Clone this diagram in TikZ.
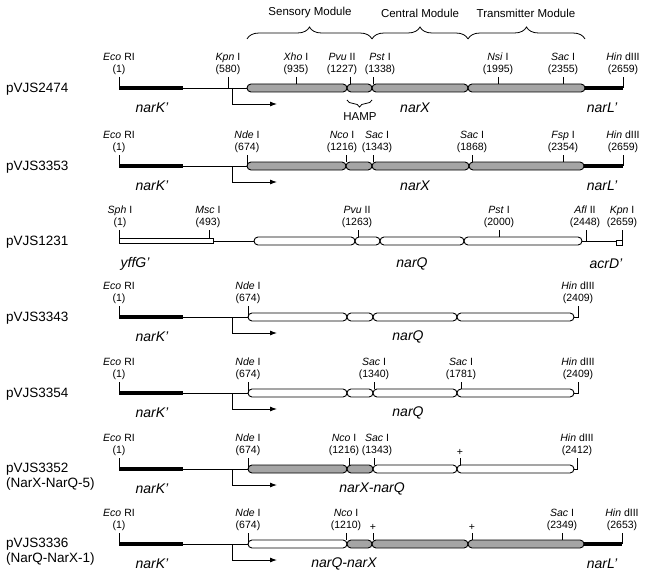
\documentclass[tikz,border=0pt]{standalone}
\usepackage{fontspec}
\setmainfont{Liberation Sans}
\usepackage{tikz}
\usetikzlibrary{arrows.meta,decorations.pathreplacing}
\definecolor{narxgrey}{RGB}{165,165,165}
\tikzset{
  >={Latex[length=7pt,width=5pt]},
  dna/.style={line width=0.9pt},
  promoter/.style={->, line width=0.9pt},
  solidbar/.style={line width=4.5pt, draw=black},
  openbar/.style={draw=black, fill=white, line width=0.7pt},
  narxpart/.style={draw=black, fill=narxgrey, line width=0.9pt, rounded corners=4pt},
  narqpart/.style={narxpart, fill=white},
  sitetick/.style={line width=0.8pt},
  site/.style={anchor=south, align=center, inner sep=1pt, font=\fontsize{10.5}{12}\selectfont},
  gene/.style={font=\fontsize{14}{16}\selectfont\itshape},
  plasmid/.style={anchor=west, align=left, inner sep=0pt, font=\fontsize{13.5}{15}\selectfont},
  module/.style={decorate, decoration={brace, amplitude=12pt}, line width=0.8pt},
  hampbrace/.style={decorate, decoration={brace, amplitude=7pt}, line width=0.8pt},
  modlabel/.style={font=\fontsize{11.5}{13}\selectfont}
}

\begin{document}
\begin{tikzpicture}[x=1pt,y=-1pt]
  \useasboundingbox (0,0) rectangle (647,575);

  % domains of NarX
  \draw[module] (247,39) -- (372,39);
  \draw[module] (372,39) -- (468,39);
  \draw[module] (468,39) -- (585,39);
  \node[modlabel] (sensory) at (310,13) {Sensory Module};
  \node[modlabel] (central) at (420,13) {Central Module};
  \node[modlabel] (transmitter) at (526,13) {Transmitter Module};

  % pVJS2474
  \begin{scope}[shift={(0,88)}]
    \node[plasmid] (p2474) at (6,1) {pVJS2474};
    \draw[dna] (119,0) -- (247,0);
    \draw[solidbar] (119,0) -- (183,0);
    \draw[narxpart] (247,-4) rectangle (347,4);
    \draw[narxpart] (347,-4) rectangle (372,4);
    \draw[narxpart] (372,-4) rectangle (468,4);
    \draw[narxpart] (468,-4) rectangle (585,4);
    \draw[solidbar] (585,0) -- (623,0);
    \draw[sitetick] (119,-11) -- (119,0);
    \draw[sitetick] (228,-11) -- (228,0);
    \draw[sitetick] (296,-11) -- (296,-4);
    \draw[sitetick] (350,-11) -- (350,-4);
    \draw[sitetick] (373,-11) -- (373,-4);
    \draw[sitetick] (498,-11) -- (498,-4);
    \draw[sitetick] (563,-11) -- (563,-4);
    \draw[sitetick] (623,-11) -- (623,0);
    \node[site] (eco1) at (119,-12) {\textit{Eco} RI\\(1)};
    \node[site] (kpn1) at (228,-12) {\textit{Kpn} I\\(580)};
    \node[site] (xho1) at (296,-12) {\textit{Xho} I\\(935)};
    \node[site] (pvu1) at (342,-12) {\textit{Pvu} II\\(1227)};
    \node[site] (pst1) at (380,-12) {\textit{Pst} I\\(1338)};
    \node[site] (nsi1) at (498,-12) {\textit{Nsi} I\\(1995)};
    \node[site] (sac1) at (563,-12) {\textit{Sac} I\\(2355)};
    \node[site] (hin1) at (623,-12) {\textit{Hin} dIII\\(2659)};
    \draw[promoter] (232,0) -- (232,16) -- (277,16);
    \draw[hampbrace] (372,12) -- (347,12);
    \node[modlabel] (hamp) at (360,29) {HAMP};
    \node[gene] (nark1) at (152,20) {narK'};
    \node[gene] (narx1) at (415,20) {narX};
    \node[gene] (narl1) at (602,20) {narL'};
  \end{scope}

  % pVJS3353
  \begin{scope}[shift={(0,166)}]
    \node[plasmid] (p3353) at (6,1) {pVJS3353};
    \draw[dna] (119,0) -- (247,0);
    \draw[solidbar] (119,0) -- (183,0);
    \draw[narxpart] (247,-4) rectangle (346,4);
    \draw[narxpart] (346,-4) rectangle (372,4);
    \draw[narxpart] (372,-4) rectangle (469,4);
    \draw[narxpart] (469,-4) rectangle (584,4);
    \draw[solidbar] (584,0) -- (623,0);
    \draw[sitetick] (119,-11) -- (119,0);
    \draw[sitetick] (247,-11) -- (247,0);
    \draw[sitetick] (346,-11) -- (346,-4);
    \draw[sitetick] (373,-11) -- (373,-4);
    \draw[sitetick] (472,-11) -- (472,-4);
    \draw[sitetick] (563,-11) -- (563,-4);
    \draw[sitetick] (623,-11) -- (623,0);
    \node[site] (eco2) at (119,-12) {\textit{Eco} RI\\(1)};
    \node[site] (nde2) at (247,-12) {\textit{Nde} I\\(674)};
    \node[site] (nco2) at (342,-12) {\textit{Nco} I\\(1216)};
    \node[site] (saca2) at (377,-12) {\textit{Sac} I\\(1343)};
    \node[site] (sacb2) at (472,-12) {\textit{Sac} I\\(1868)};
    \node[site] (fsp2) at (563,-12) {\textit{Fsp} I\\(2354)};
    \node[site] (hin2) at (623,-12) {\textit{Hin} dIII\\(2659)};
    \draw[promoter] (232,0) -- (232,16) -- (277,16);
    \node[gene] (nark2) at (152,20) {narK'};
    \node[gene] (narx2) at (415,20) {narX};
    \node[gene] (narl2) at (602,20) {narL'};
  \end{scope}

  % pVJS1231
  \begin{scope}[shift={(0,241)}]
    \node[plasmid] (p1231) at (6,1) {pVJS1231};
    \draw[dna] (119,0) -- (254,0);
    \draw[openbar] (119,-2.5) rectangle (213,2.5);
    \draw[narqpart] (254,-4) rectangle (355,4);
    \draw[narqpart] (355,-4) rectangle (380,4);
    \draw[narqpart] (380,-4) rectangle (464,4);
    \draw[narqpart] (464,-4) rectangle (582,4);
    \draw[dna] (582,0) -- (616,0);
    \draw[openbar] (616,-1) rectangle (622,4);
    \draw[sitetick] (119,-11) -- (119,0);
    \draw[sitetick] (209,-11) -- (209,-2.5);
    \draw[sitetick] (358,-11) -- (358,-4);
    \draw[sitetick] (499,-11) -- (499,-4);
    \draw[sitetick] (586,-11) -- (586,0);
    \draw[sitetick] (622,-11) -- (622,-1);
    \node[site] (sph3) at (120,-12) {\textit{Sph} I\\(1)};
    \node[site] (msc3) at (208,-12) {\textit{Msc} I\\(493)};
    \node[site] (pvu3) at (357,-12) {\textit{Pvu} II\\(1263)};
    \node[site] (pst3) at (499,-12) {\textit{Pst} I\\(2000)};
    \node[site] (afl3) at (585,-12) {\textit{Afl} II\\(2448)};
    \node[site] (kpn3) at (622,-12) {\textit{Kpn} I\\(2659)};
    \node[gene] (yffg3) at (135,23) {yffG'};
    \node[gene] (narq3) at (412,23) {narQ};
    \node[gene] (acrd3) at (606,23) {acrD'};
  \end{scope}

  % pVJS3343
  \begin{scope}[shift={(0,317)}]
    \node[plasmid] (p3343) at (6,1) {pVJS3343};
    \draw[dna] (119,0) -- (248,0);
    \draw[solidbar] (119,0) -- (183,0);
    \draw[narqpart] (248,-4) rectangle (347,4);
    \draw[narqpart] (347,-4) rectangle (373,4);
    \draw[narqpart] (373,-4) rectangle (457,4);
    \draw[narqpart] (457,-4) rectangle (574,4);
    \draw[sitetick] (119,-11) -- (119,0);
    \draw[sitetick] (248,-11) -- (248,0);
    \draw[sitetick] (574,0) -- (578,0) -- (578,-11);
    \node[site] (eco4) at (119,-12) {\textit{Eco} RI\\(1)};
    \node[site] (nde4) at (248,-12) {\textit{Nde} I\\(674)};
    \node[site] (hin4) at (578,-12) {\textit{Hin} dIII\\(2409)};
    \draw[promoter] (232,0) -- (232,16) -- (277,16);
    \node[gene] (nark4) at (152,20) {narK'};
    \node[gene] (narq4) at (408,20) {narQ};
  \end{scope}

  % pVJS3354
  \begin{scope}[shift={(0,393)}]
    \node[plasmid] (p3354) at (6,1) {pVJS3354};
    \draw[dna] (119,0) -- (248,0);
    \draw[solidbar] (119,0) -- (183,0);
    \draw[narqpart] (248,-4) rectangle (347,4);
    \draw[narqpart] (347,-4) rectangle (373,4);
    \draw[narqpart] (373,-4) rectangle (457,4);
    \draw[narqpart] (457,-4) rectangle (574,4);
    \draw[sitetick] (119,-11) -- (119,0);
    \draw[sitetick] (248,-11) -- (248,0);
    \draw[sitetick] (374,-11) -- (374,-4);
    \draw[sitetick] (461,-11) -- (461,-4);
    \draw[sitetick] (574,0) -- (578,0) -- (578,-11);
    \node[site] (eco5) at (119,-12) {\textit{Eco} RI\\(1)};
    \node[site] (nde5) at (248,-12) {\textit{Nde} I\\(674)};
    \node[site] (saca5) at (374,-12) {\textit{Sac} I\\(1340)};
    \node[site] (sacb5) at (461,-12) {\textit{Sac} I\\(1781)};
    \node[site] (hin5) at (578,-12) {\textit{Hin} dIII\\(2409)};
    \draw[promoter] (232,0) -- (232,16) -- (277,16);
    \node[gene] (nark5) at (152,20) {narK'};
    \node[gene] (narq5) at (408,20) {narQ};
  \end{scope}

  % pVJS3352
  \begin{scope}[shift={(0,469)}]
    \node[plasmid] (p3352) at (6,8) {pVJS3352\\(NarX-NarQ-5)};
    \draw[dna] (119,0) -- (248,0);
    \draw[solidbar] (119,0) -- (183,0);
    \draw[narxpart] (248,-4) rectangle (347,4);
    \draw[narxpart] (347,-4) rectangle (373,4);
    \draw[narqpart] (373,-4) rectangle (457,4);
    \draw[narqpart] (457,-4) rectangle (574,4);
    \draw[sitetick] (119,-11) -- (119,0);
    \draw[sitetick] (248,-11) -- (248,0);
    \draw[sitetick] (349,-11) -- (349,-4);
    \draw[sitetick] (374,-11) -- (374,-4);
    \draw[sitetick] (460,-11) -- (460,-4);
    \draw[sitetick] (574,0) -- (577,0) -- (577,-11);
    \node[site] (eco6) at (119,-12) {\textit{Eco} RI\\(1)};
    \node[site] (nde6) at (248,-12) {\textit{Nde} I\\(674)};
    \node[site] (nco6) at (344,-12) {\textit{Nco} I\\(1216)};
    \node[site] (sac6) at (377,-12) {\textit{Sac} I\\(1343)};
    \node[site] (fuse6) at (460,-12) {+};
    \node[site] (hin6) at (577,-12) {\textit{Hin} dIII\\(2412)};
    \draw[promoter] (232,0) -- (232,16) -- (277,16);
    \node[gene] (nark6) at (152,20) {narK'};
    \node[gene] (narxq6) at (372,20) {narX-narQ};
  \end{scope}

  % pVJS3336
  \begin{scope}[shift={(0,544)}]
    \node[plasmid] (p3336) at (6,8) {pVJS3336\\(NarQ-NarX-1)};
    \draw[dna] (119,0) -- (248,0);
    \draw[solidbar] (119,0) -- (183,0);
    \draw[narqpart] (248,-4) rectangle (347,4);
    \draw[narxpart] (347,-4) rectangle (372,4);
    \draw[narxpart] (372,-4) rectangle (468,4);
    \draw[narxpart] (468,-4) rectangle (584,4);
    \draw[solidbar] (584,0) -- (622,0);
    \draw[sitetick] (119,-11) -- (119,0);
    \draw[sitetick] (248,-11) -- (248,0);
    \draw[sitetick] (346,-11) -- (346,-4);
    \draw[sitetick] (373,-11) -- (373,-4);
    \draw[sitetick] (472,-11) -- (472,-4);
    \draw[sitetick] (562,-11) -- (562,-4);
    \draw[sitetick] (622,-11) -- (622,0);
    \node[site] (eco7) at (119,-12) {\textit{Eco} RI\\(1)};
    \node[site] (nde7) at (248,-12) {\textit{Nde} I\\(674)};
    \node[site] (nco7) at (346,-12) {\textit{Nco} I\\(1210)};
    \node[site] (fusea7) at (373,-12) {+};
    \node[site] (fuseb7) at (472,-12) {+};
    \node[site] (sac7) at (562,-12) {\textit{Sac} I\\(2349)};
    \node[site] (hin7) at (622,-12) {\textit{Hin} dIII\\(2653)};
    \draw[promoter] (232,0) -- (232,16) -- (277,16);
    \node[gene] (nark7) at (152,20) {narK'};
    \node[gene] (narqx7) at (344,20) {narQ-narX};
    \node[gene] (narl7) at (602,20) {narL'};
  \end{scope}
\end{tikzpicture}
\end{document}
